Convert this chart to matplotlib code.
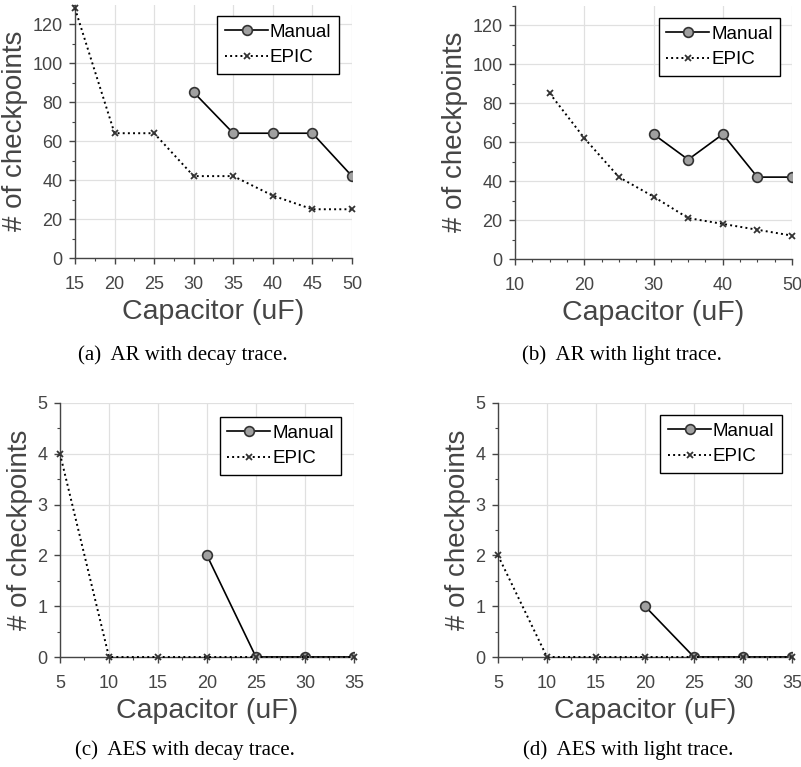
import matplotlib
matplotlib.use("Agg")
import matplotlib.pyplot as plt
from matplotlib.ticker import MultipleLocator

plt.rcParams['font.family'] = ['Liberation Sans', 'DejaVu Sans']

# (a) AR with decay trace
a_manual_x = [30, 35, 40, 45, 50]
a_manual_y = [85, 64, 64, 64, 42]
a_epic_x = [15, 20, 25, 30, 35, 40, 45, 50]
a_epic_y = [128, 64, 64, 42, 42, 32, 25, 25]

# (b) AR with light trace
b_manual_x = [30, 35, 40, 45, 50]
b_manual_y = [64, 51, 64, 42, 42]
b_epic_x = [15, 20, 25, 30, 35, 40, 45, 50]
b_epic_y = [85, 62, 42, 32, 21, 18, 15, 12]

# (c) AES with decay trace
c_manual_x = [20, 25, 30, 35]
c_manual_y = [2, 0, 0, 0]
c_epic_x = [5, 10, 15, 20, 25, 30, 35]
c_epic_y = [4, 0, 0, 0, 0, 0, 0]

# (d) AES with light trace
d_manual_x = [20, 25, 30, 35]
d_manual_y = [1, 0, 0, 0]
d_epic_x = [5, 10, 15, 20, 25, 30, 35]
d_epic_y = [2, 0, 0, 0, 0, 0, 0]

captions = ["(a)  AR with decay trace.", "(b)  AR with light trace.",
            "(c)  AES with decay trace.", "(d)  AES with light trace."]

TXT = '#454545'

fig = plt.figure(figsize=(8.01, 7.67), dpi=100)

panels = [
    dict(rect=[0.0936, 0.6636, 0.3458, 0.3305], mx=a_manual_x, my=a_manual_y,
         ex=a_epic_x, ey=a_epic_y, xlim=(15, 50), ylim=(0, 130), xmaj=5, xmin=2.5,
         ymaj=20, ymin=10, leg=(0.953, 0.955)),
    dict(rect=[0.643, 0.6623, 0.3458, 0.3305], mx=b_manual_x, my=b_manual_y,
         ex=b_epic_x, ey=b_epic_y, xlim=(10, 50), ylim=(0, 130), xmaj=10, xmin=2.5,
         ymaj=20, ymin=10, leg=(0.957, 0.951)),
    dict(rect=[0.0749, 0.1434, 0.367, 0.3312], mx=c_manual_x, my=c_manual_y,
         ex=c_epic_x, ey=c_epic_y, xlim=(5, 35), ylim=(0, 5), xmaj=5, xmin=2.5,
         ymaj=1, ymin=0.5, leg=(0.956, 0.945)),
    dict(rect=[0.6217, 0.1434, 0.367, 0.3312], mx=d_manual_x, my=d_manual_y,
         ex=d_epic_x, ey=d_epic_y, xlim=(5, 35), ylim=(0, 5), xmaj=5, xmin=2.5,
         ymaj=1, ymin=0.5, leg=(0.966, 0.953)),
]

for p in panels:
    ax = fig.add_axes(p['rect'])
    ax.plot(p['mx'], p['my'], '-', color='black', lw=1.2, marker='o', ms=7,
            mfc='#a0a0a0', mec='#333333', mew=1.2, label='Manual', zorder=3)
    ax.plot(p['ex'], p['ey'], ':', color='black', lw=1.4, marker='x', ms=5,
            mec='#333333', mew=1.3, label='EPIC', zorder=3, clip_on=False)
    ax.set_xlim(*p['xlim'])
    ax.set_ylim(*p['ylim'])
    ax.xaxis.set_major_locator(MultipleLocator(p['xmaj']))
    ax.xaxis.set_minor_locator(MultipleLocator(p['xmin']))
    ax.yaxis.set_major_locator(MultipleLocator(p['ymaj']))
    ax.yaxis.set_minor_locator(MultipleLocator(p['ymin']))
    ax.grid(True, which='major', color='#e0e0e0', lw=0.9)
    ax.set_axisbelow(True)
    for s in ['top', 'right']:
        ax.spines[s].set_visible(False)
    for s in ['left', 'bottom']:
        ax.spines[s].set_color(TXT)
        ax.spines[s].set_linewidth(1.0)
    ax.tick_params(which='major', direction='out', length=4, width=1.0,
                   colors=TXT, labelsize=13)
    ax.tick_params(axis='x', which='major', pad=9)
    ax.tick_params(axis='y', which='major', pad=5)
    ax.tick_params(which='minor', direction='out', length=2, width=0.8, colors=TXT)
    ax.set_xlabel('Capacitor (uF)', fontsize=20.5, color=TXT, labelpad=4)
    ax.set_ylabel('# of checkpoints', fontsize=20, color=TXT, labelpad=3)
    leg = ax.legend(loc='upper right', bbox_to_anchor=p['leg'], borderaxespad=0,
                    fancybox=False, framealpha=1, edgecolor='black', fontsize=13.5,
                    handlelength=2.3, handletextpad=0.1, borderpad=0.4,
                    labelspacing=0.45)
    leg.get_frame().set_linewidth(1.0)

fig.text(0.2285, 0.537, captions[0], ha='center', va='center',
         family='Liberation Serif', fontsize=15, color='black')
fig.text(0.7765, 0.537, captions[1], ha='center', va='center',
         family='Liberation Serif', fontsize=15, color='black')
fig.text(0.231, 0.022, captions[2], ha='center', va='center',
         family='Liberation Serif', fontsize=15, color='black')
fig.text(0.784, 0.022, captions[3], ha='center', va='center',
         family='Liberation Serif', fontsize=15, color='black')

fig.savefig('out.png', dpi=100)
